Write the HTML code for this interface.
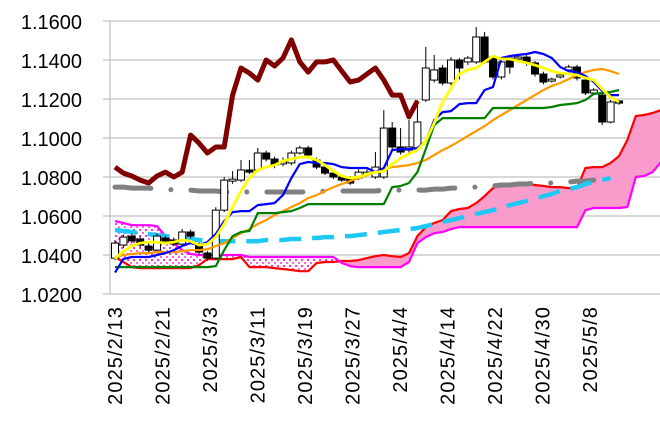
<!DOCTYPE html>
<html><head><meta charset="utf-8">
<style>
html,body{margin:0;padding:0;background:#fff;}
svg{display:block;font-family:"Liberation Sans",sans-serif;}
</style></head>
<body>
<svg id="chart" width="660" height="425" viewBox="0 0 660 425">
<defs>
<pattern id="dots" width="6" height="6" patternUnits="userSpaceOnUse">
<rect width="6" height="6" fill="#fff"/>
<rect x="1" y="1" width="2" height="2" fill="#ff33cc"/>
<rect x="4" y="4" width="2" height="2" fill="#ff66dd"/>
</pattern>
</defs>
<g id="grid"></g>
<g id="yticks"></g>
<g id="xticks"></g>
<g id="plot"></g>
</svg>
<script>
const yTicks = [1.16,1.14,1.12,1.10,1.08,1.06,1.04,1.02];
const yTickLabels = ["1.1600","1.1400","1.1200","1.1000","1.0800","1.0600","1.0400","1.0200"];
const dateLabels = ["2025/2/13","2025/2/21","2025/3/3","2025/3/11","2025/3/19","2025/3/27","2025/4/4","2025/4/14","2025/4/22","2025/4/30","2025/5/8"];

const open  = [1.0384,1.0451,1.0497,1.0482,1.0446,1.0425,1.0487,1.0477,1.0456,1.0518,1.0451,1.0410,1.0384,1.0630,1.0779,1.0784,1.0836,1.0836,1.0923,1.0892,1.0867,1.0872,1.0923,1.0949,1.0887,1.0851,1.0820,1.0800,1.0795,1.0795,1.0815,1.0800,1.0800,1.1051,1.0954,1.0938,1.0949,1.1195,1.1297,1.1359,1.1282,1.1400,1.1390,1.1390,1.1518,1.1415,1.1313,1.1410,1.1405,1.1415,1.1385,1.1328,1.1292,1.1313,1.1349,1.1364,1.1297,1.1231,1.1220,1.1082,1.1190];
const close = [1.0461,1.0492,1.0472,1.0451,1.0425,1.0497,1.0472,1.0456,1.0518,1.0497,1.0415,1.0384,1.0630,1.0784,1.0789,1.0836,1.0825,1.0923,1.0892,1.0862,1.0877,1.0923,1.0949,1.0913,1.0851,1.0820,1.0800,1.0784,1.0769,1.0825,1.0825,1.0851,1.1051,1.0954,1.0928,1.0954,1.1082,1.1359,1.1349,1.1282,1.1400,1.1359,1.1410,1.1518,1.1390,1.1313,1.1390,1.1364,1.1415,1.1385,1.1328,1.1287,1.1302,1.1323,1.1364,1.1308,1.1231,1.1246,1.1082,1.1185,1.1179];
const high  = [1.0477,1.0505,1.0510,1.0495,1.0460,1.0510,1.0500,1.0490,1.0533,1.0530,1.0465,1.0420,1.0645,1.0800,1.0830,1.0887,1.0887,1.0949,1.0935,1.0905,1.0900,1.0935,1.0960,1.0960,1.0900,1.0860,1.0830,1.0810,1.0805,1.0840,1.0840,1.0928,1.1143,1.1082,1.1051,1.1092,1.1195,1.1467,1.1426,1.1375,1.1415,1.1410,1.1420,1.1569,1.1544,1.1425,1.1400,1.1420,1.1425,1.1425,1.1395,1.1340,1.1310,1.1330,1.1375,1.1375,1.1310,1.1255,1.1230,1.1195,1.1195];
const low   = [1.0374,1.0436,1.0460,1.0440,1.0410,1.0415,1.0460,1.0445,1.0445,1.0485,1.0400,1.0370,1.0375,1.0620,1.0765,1.0775,1.0815,1.0825,1.0880,1.0845,1.0855,1.0860,1.0915,1.0905,1.0840,1.0810,1.0790,1.0775,1.0760,1.0785,1.0805,1.0790,1.0790,1.0940,1.0915,1.0925,1.0940,1.1185,1.1285,1.1270,1.1270,1.1300,1.1375,1.1380,1.1380,1.1300,1.1300,1.1330,1.1395,1.1370,1.1315,1.1275,1.1285,1.1305,1.1340,1.1295,1.1220,1.1220,1.1066,1.1075,1.1170];

const tenkan = [1.031,1.038,1.039,1.039,1.039,1.040,1.041,1.0425,1.0446,1.0461,1.0451,1.0466,1.0507,1.0574,1.062,1.0625,1.0625,1.0656,1.0661,1.0666,1.0707,1.0795,1.0866,1.0877,1.0872,1.0872,1.0866,1.0851,1.0846,1.0846,1.0846,1.0825,1.0846,1.0938,1.0943,1.0943,1.0948,1.0984,1.1092,1.1133,1.1138,1.1174,1.1179,1.1179,1.1246,1.1261,1.141,1.142,1.1426,1.1431,1.1441,1.1431,1.141,1.1364,1.1343,1.1338,1.1318,1.1287,1.1241,1.122,1.122];
const kijun = [1.0338,1.0338,1.0338,1.0338,1.0338,1.0338,1.0338,1.0338,1.0338,1.0338,1.0338,1.0338,1.0343,1.0425,1.0497,1.0518,1.0523,1.0615,1.0615,1.0615,1.062,1.0625,1.0641,1.0661,1.0661,1.0661,1.0661,1.0661,1.0661,1.0661,1.0661,1.0661,1.0661,1.0748,1.0754,1.0769,1.0825,1.0943,1.1066,1.1102,1.1102,1.1102,1.1102,1.1102,1.1102,1.1154,1.1154,1.1154,1.1154,1.1154,1.1154,1.1154,1.1159,1.1169,1.1174,1.1179,1.1195,1.1226,1.1231,1.1236,1.1246];
const senkouA = [1.039,1.0364,1.0338,1.0333,1.0333,1.0333,1.0333,1.0333,1.0333,1.0333,1.0348,1.0379,1.0379,1.0379,1.0379,1.039,1.0338,1.0338,1.0338,1.0333,1.0328,1.0323,1.0317,1.0317,1.0359,1.0364,1.0364,1.0369,1.0369,1.0374,1.0384,1.0394,1.040,1.0394,1.039,1.041,1.0497,1.0543,1.0564,1.0579,1.0625,1.0636,1.0641,1.0666,1.0702,1.0743,1.0759,1.0764,1.0769,1.0764,1.0759,1.0754,1.0748,1.0748,1.0743,1.0743,1.0846,1.0851,1.0851,1.0872,1.0907,1.099,1.1113,1.1118,1.1128,1.1143];
const senkouB = [1.0574,1.0564,1.0553,1.0553,1.0553,1.0548,1.0497,1.0461,1.0425,1.0405,1.040,1.040,1.040,1.040,1.040,1.040,1.039,1.039,1.039,1.039,1.039,1.039,1.039,1.039,1.039,1.039,1.039,1.0359,1.0343,1.0338,1.0338,1.0338,1.0338,1.0338,1.0338,1.0364,1.0461,1.0492,1.0512,1.0518,1.0533,1.0543,1.0543,1.0543,1.0543,1.0543,1.0543,1.0543,1.0543,1.0543,1.0543,1.0543,1.0543,1.0543,1.0543,1.0543,1.063,1.0641,1.0641,1.0641,1.0641,1.0646,1.080,1.0805,1.0825,1.0877];
const chikou = [1.0851,1.0820,1.0805,1.0784,1.0769,1.0805,1.0825,1.0800,1.0825,1.1015,1.0974,1.0923,1.0954,1.0954,1.1220,1.1359,1.1333,1.1297,1.1400,1.1369,1.1410,1.1503,1.1390,1.1338,1.1390,1.1390,1.1400,1.1343,1.1287,1.1297,1.1328,1.1359,1.1297,1.1220,1.1220,1.1108,1.1190];
const maShort = [1.038,1.042,1.0446,1.0461,1.0466,1.0466,1.0461,1.0466,1.0477,1.0471,1.0451,1.0456,1.0492,1.0559,1.0646,1.0728,1.0795,1.0836,1.0851,1.0861,1.0882,1.0892,1.0902,1.0902,1.0887,1.0861,1.083,1.0805,1.0795,1.080,1.0815,1.0825,1.083,1.0866,1.0897,1.0918,1.0938,1.0984,1.1077,1.1184,1.1256,1.1328,1.1349,1.1359,1.139,1.142,1.1405,1.1405,1.1395,1.1385,1.1374,1.1359,1.1343,1.1333,1.1328,1.1323,1.1308,1.1297,1.1251,1.121,1.1184];
const maMid = [1.039,1.040,1.0405,1.041,1.041,1.0415,1.0415,1.0415,1.042,1.0425,1.0425,1.043,1.0446,1.0461,1.0487,1.0512,1.0533,1.0559,1.0579,1.0605,1.0625,1.0646,1.0666,1.0692,1.0707,1.0728,1.0748,1.0764,1.0779,1.0795,1.081,1.0825,1.0841,1.0851,1.0856,1.0861,1.0872,1.0887,1.0913,1.0938,1.0959,1.0984,1.101,1.1036,1.1061,1.1092,1.1118,1.1143,1.1169,1.1195,1.122,1.1246,1.1267,1.1282,1.1302,1.1323,1.1338,1.1349,1.1354,1.1343,1.1328];
const maLong = [1.0748,1.0748,1.0743,1.0743,1.0743,1.0738,1.0738,1.0733,1.0733,1.0733,1.0728,1.0728,1.0728,1.0723,1.0723,1.0723,1.0723,1.0723,1.0723,1.0723,1.0723,1.0723,1.0723,1.0723,1.0723,1.0728,1.0728,1.0728,1.0728,1.0728,1.0728,1.0728,1.0733,1.0733,1.0733,1.0733,1.0733,1.0733,1.0738,1.0738,1.0743,1.0743,1.0748,1.0748,1.0754,1.0754,1.0759,1.0759,1.0764,1.0764,1.0769,1.0769,1.0769,1.0774,1.0774,1.0779,1.0779,1.0784];
const trendLine = [1.0528,1.0523,1.0518,1.0512,1.0507,1.0502,1.0497,1.0492,1.0487,1.0482,1.0477,1.0471,1.0471,1.0471,1.0471,1.0471,1.0471,1.0471,1.0477,1.0477,1.0477,1.0482,1.0482,1.0487,1.0487,1.0492,1.0492,1.0497,1.0497,1.0502,1.0507,1.0512,1.0518,1.0523,1.0528,1.0533,1.0538,1.0548,1.0559,1.0569,1.0579,1.0589,1.060,1.061,1.062,1.063,1.0641,1.0656,1.0666,1.0677,1.0687,1.0702,1.0713,1.0728,1.0738,1.0748,1.0764,1.0774,1.0784,1.0795];

const NS = "http://www.w3.org/2000/svg";
const X0 = 115, STEP = 8.4, YTOP = 21, YBOT = 294, VMAX = 1.16, VMIN = 1.02;
function xs(i){ return X0 + i*STEP; }
function ys(v){ return YTOP + (VMAX - v)/(VMAX - VMIN)*(YBOT - YTOP); }
function mk(tag, attrs, parent){
  const e = document.createElementNS(NS, tag);
  for (const k in attrs) e.setAttribute(k, attrs[k]);
  parent.appendChild(e);
  return e;
}
const grid = document.getElementById('grid');
const yt = document.getElementById('yticks');
const xt = document.getElementById('xticks');
const plot = document.getElementById('plot');

yTicks.forEach((v,k)=>{
  const l = mk('line',{x1:103,x2:660,y1:ys(v),y2:ys(v),stroke:'#c0c0c0','stroke-width':1.2},grid);
  
  
  const t = mk('text',{x:82,y:ys(v)+8,'text-anchor':'end','font-size':20,fill:'#000'},yt);
  t.textContent = yTickLabels[k];
  
  
});
const ax = mk('line',{x1:110,x2:110,y1:YTOP,y2:YBOT,stroke:'#c0c0c0','stroke-width':1.2},grid);



dateLabels.forEach((d,k)=>{
  const cx = 115 + k*47.5;
  const t = mk('text',{transform:`translate(${cx+7},306) rotate(-90)`,'text-anchor':'end','font-size':20,'letter-spacing':'1.1',fill:'#000'},xt);
  t.textContent = d;
  
  
});

const cloud = mk('g',{},plot);


for (let i=0;i<senkouA.length-1;i++){
  const a0=senkouA[i],a1=senkouA[i+1],b0=senkouB[i],b1=senkouB[i+1];
  const d0=a0-b0, d1=a1-b1;
  const fillFor = d => d>=0 ? '#fa9ccb' : 'url(#dots)';
  if ((d0>=0)===(d1>=0)){
    const f = fillFor((d0+d1)/2);
    const p = mk('polygon',{points:`${xs(i)},${ys(a0)} ${xs(i+1)},${ys(a1)} ${xs(i+1)},${ys(b1)} ${xs(i)},${ys(b0)}`,fill:f,stroke:f,'stroke-width':0.8},cloud);
    
    
  } else {
    const t = d0/(d0-d1);
    const xc = xs(i)+t*STEP, vc = a0+t*(a1-a0);
    const f0 = fillFor(d0), f1 = fillFor(d1);
    const p1 = mk('polygon',{points:`${xs(i)},${ys(a0)} ${xc},${ys(vc)} ${xs(i)},${ys(b0)}`,fill:f0,stroke:f0,'stroke-width':0.8},cloud);
    
    
    const p2 = mk('polygon',{points:`${xc},${ys(vc)} ${xs(i+1)},${ys(a1)} ${xs(i+1)},${ys(b1)}`,fill:f1,stroke:f1,'stroke-width':0.8},cloud);
    
    
  }
}
function line(arr, color, w, name, extra){
  const pts = arr.map((v,i)=>`${xs(i).toFixed(1)},${ys(v).toFixed(1)}`).join(' ');
  const a = Object.assign({points:pts,fill:'none',stroke:color,'stroke-width':w,'stroke-linejoin':'round'}, extra||{});
  const p = mk('polyline', a, plot);
  
  
  return p;
}
line(senkouA,'#ff0000',2.2,'senkou-span-a');
line(senkouB,'#ff00ff',2.2,'senkou-span-b');
line(maLong,'#808080',5,'long-moving-average',{'stroke-dasharray':'36 20 0.1 20','stroke-linecap':'round'});
line(trendLine,'#1ec8f5',4.5,'trend-line',{'stroke-dasharray':'22 11'});

const cg = mk('g',{},plot);


open.forEach((o,i)=>{
  const c = close[i], x = xs(i);
  const w = mk('line',{x1:x,x2:x,y1:ys(high[i]),y2:ys(low[i]),stroke:'#000','stroke-width':1},cg);
  
  
  const top = ys(Math.max(o,c)), bot = ys(Math.min(o,c));
  const r = mk('rect',{x:x-3.5,y:top,width:7,height:Math.max(1,bot-top),fill:c>=o?'#fff':'#000',stroke:'#000','stroke-width':1},cg);
  
  
});

line(chikou,'#800000',5,'chikou-span');
line(maMid,'#ff9900',2.2,'medium-moving-average');
line(kijun,'#008000',2.2,'kijun-sen');
line(tenkan,'#0000ff',2.2,'tenkan-sen');
line(maShort,'#ffff00',2.8,'short-moving-average');
</script>
</body></html>
